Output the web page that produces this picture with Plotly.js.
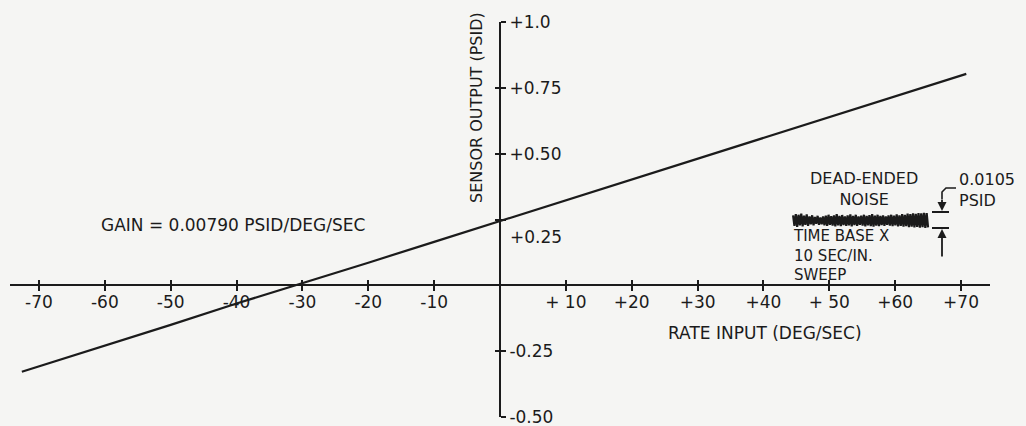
<!DOCTYPE html>
<html>
<head>
<meta charset="utf-8">
<script src="https://cdn.plot.ly/plotly-3.0.1.min.js"></script>
<style>html,body{margin:0;padding:0;background:#f5f5f3;}#chart{width:1026px;height:426px;}</style>
</head>
<body>
<div id="chart"></div>
<script>
// ---- data ----
const rateInput = [-72.6, -60, -50, -40, -31, -20, -10, 0, 10, 20, 30, 40, 50, 60, 70.8];
const sensorOutput = [-0.328, -0.230, -0.150, -0.069, 0.0, 0.086, 0.165, 0.244, 0.322, 0.401, 0.481, 0.560, 0.639, 0.718, 0.803];

const noiseStart = 44.5;
const noiseStep = 0.207;
const noiseOutput = [
0.266,0.226,0.270,0.222,0.268,0.228,0.272,0.224,0.265,0.230,0.269,0.226,0.262,0.232,0.266,0.228,0.260,0.234,0.264,0.230,
0.258,0.232,0.262,0.228,0.265,0.226,0.268,0.230,0.263,0.227,0.266,0.224,0.270,0.228,0.264,0.225,0.267,0.229,0.262,0.226,
0.266,0.228,0.269,0.224,0.264,0.229,0.268,0.226,0.262,0.230,0.265,0.227,0.268,0.224,0.264,0.228,0.267,0.225,0.270,0.223,
0.265,0.227,0.268,0.225,0.264,0.229,0.266,0.226,0.262,0.230,0.266,0.227,0.268,0.225,0.265,0.228,0.269,0.224,0.266,0.226,
0.270,0.223,0.268,0.225,0.272,0.221,0.270,0.223,0.273,0.220,0.271,0.222,0.274,0.219,0.273,0.221,0.275,0.218,0.274,0.220
];

const xTickVals = [-70, -60, -50, -40, -30, -20, -10, 10, 20, 30, 40, 50, 60, 70];
const xTickText = ['-70', '-60', '-50', '-40', '-30', '-20', '-10', '+ 10', '+20', '+30', '+40', '+ 50', '+60', '+70'];
const yTickVals = [-0.5, -0.25, 0.25, 0.5, 0.75, 1.0];
const yTickText = ['-0.50', '-0.25', ' ', '+0.50', '+0.75', '+1.0'];

// ---- layout helpers (pixel -> paper) ----
const W = 1026, H = 426;
const fx = p => p / W;
const fy = p => 1 - p / H;
const ink = '#1b1b1b';
const FONT = 'DejaVu Sans';

const xDomain = [fx(10), fx(990)];
const yDomain = [fy(417), fy(22)];
const xPos = fy(285.3);
const yPos = fx(500);

const traces = [
  {x: rateInput, y: sensorOutput, mode: 'lines', line: {color: ink, width: 2.2}, hoverinfo: 'skip'},
  {x0: noiseStart, dx: noiseStep, y: noiseOutput, mode: 'lines', line: {color: ink, width: 2.2}, hoverinfo: 'skip'},
  {x: [null], y: [null], xaxis: 'x2', yaxis: 'y2', mode: 'lines', hoverinfo: 'skip'}
];

const axisCommon = {showgrid: false, zeroline: false, fixedrange: true, tickcolor: ink, tickwidth: 2, ticklen: 5};

function label(text, px, py, size, xanchor, extra) {
  return Object.assign({text: text, xref: 'paper', yref: 'paper', x: fx(px), y: fy(py),
    xanchor: xanchor || 'center', yanchor: 'middle', showarrow: false, font: {size: size}}, extra || {});
}

const layout = {
  width: W, height: H,
  margin: {l: 0, r: 0, t: 0, b: 0},
  paper_bgcolor: '#f5f5f3',
  plot_bgcolor: 'rgba(0,0,0,0)',
  showlegend: false,
  font: {family: FONT, color: ink, size: 16},
  xaxis: Object.assign({}, axisCommon, {
    domain: xDomain, range: [-74.4, 74.4], anchor: 'free', position: xPos,
    showline: true, linecolor: ink, linewidth: 2, ticks: 'outside',
    tickmode: 'array', tickvals: xTickVals, ticktext: xTickText, ticklabelstandoff: -4,
    ticklabeloverflow: 'allow',
    tickfont: {family: FONT, size: 17, color: ink}
  }),
  xaxis2: Object.assign({}, axisCommon, {
    overlaying: 'x', domain: xDomain, range: [-74.4, 74.4], anchor: 'free', position: xPos,
    showline: false, ticks: 'inside', tickmode: 'array', tickvals: xTickVals, showticklabels: false
  }),
  yaxis: Object.assign({}, axisCommon, {
    domain: yDomain, range: [-0.5, 1.0], anchor: 'free', position: yPos, side: 'right',
    showline: true, linecolor: ink, linewidth: 2, ticks: 'outside',
    tickmode: 'array', tickvals: yTickVals, ticktext: yTickText, ticklabelstandoff: 0,
    ticklabeloverflow: 'allow',
    tickfont: {family: FONT, size: 17, color: ink}
  }),
  yaxis2: Object.assign({}, axisCommon, {
    overlaying: 'y', domain: yDomain, range: [-0.5, 1.0], anchor: 'free', position: yPos, side: 'right',
    showline: false, ticks: 'inside', tickmode: 'array', tickvals: yTickVals, showticklabels: false
  }),
  shapes: [
    {type: 'line', xref: 'paper', yref: 'paper', x0: fx(932), x1: fx(949), y0: fy(212), y1: fy(212), line: {color: ink, width: 2}},
    {type: 'line', xref: 'paper', yref: 'paper', x0: fx(932), x1: fx(949), y0: fy(228), y1: fy(228), line: {color: ink, width: 2}},
    {type: 'path', xref: 'paper', yref: 'paper',
     path: 'M ' + fx(942) + ',' + fy(199) + ' L ' + fx(942) + ',' + fy(192) + ' L ' + fx(946) + ',' + fy(188) + ' L ' + fx(956) + ',' + fy(188),
     line: {color: ink, width: 1.6}}
  ],
  annotations: [
    label('SENSOR OUTPUT (PSID)', 476, 108, 16, 'center', {textangle: -90}),
    label('+0.25', 508, 237, 17, 'left'),
    label('RATE INPUT (DEG/SEC)', 666, 333, 17, 'left'),
    label('GAIN = 0.00790 PSID/DEG/SEC', 233, 225, 17, 'center'),
    label('DEAD-ENDED<br>NOISE', 864, 189, 16, 'center'),
    label('TIME BASE X<br>10 SEC/IN.<br>SWEEP', 791, 255, 15, 'left', {align: 'left'}),
    label('0.0105<br>PSID', 957, 190, 16, 'left', {align: 'left'}),
    {text: '', xref: 'paper', yref: 'paper', x: fx(942), y: fy(211), ax: 0, ay: -13, showarrow: true, arrowhead: 2, arrowsize: 1, arrowwidth: 1.8, arrowcolor: ink},
    {text: '', xref: 'paper', yref: 'paper', x: fx(942), y: fy(229), ax: 0, ay: 29, showarrow: true, arrowhead: 2, arrowsize: 1, arrowwidth: 1.8, arrowcolor: ink}
  ]
};

Plotly.newPlot('chart', traces, layout, {staticPlot: true, displayModeBar: false});
</script>
</body>
</html>
